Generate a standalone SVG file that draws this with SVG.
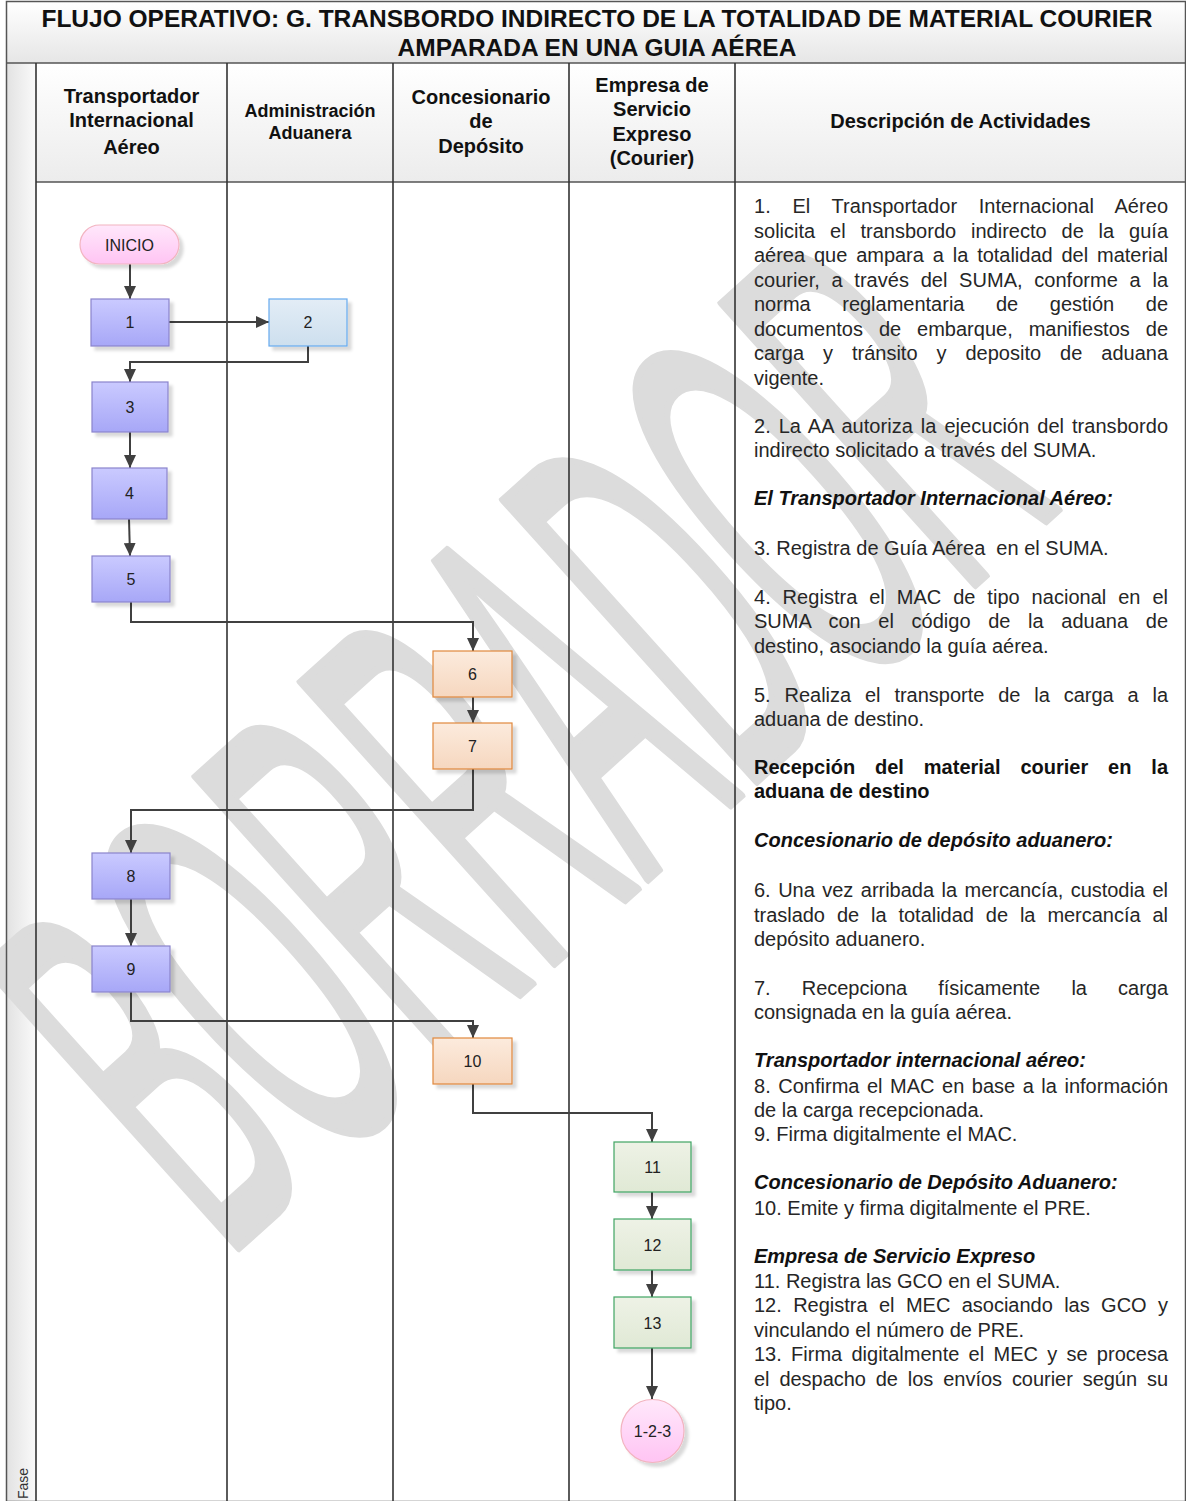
<svg xmlns="http://www.w3.org/2000/svg" width="1186" height="1501" viewBox="0 0 1186 1501">
<style>
.ttl{font-family:"Liberation Sans",Arial,sans-serif;font-weight:bold;font-size:24.5px;fill:#111;text-anchor:middle}
.hd{font-family:"Liberation Sans",Arial,sans-serif;font-weight:bold;font-size:20px;fill:#111;text-anchor:middle}
.hs{font-family:"Liberation Sans",Arial,sans-serif;font-weight:bold;font-size:18px;fill:#111;text-anchor:middle}
.nl{font-family:"Liberation Sans",Arial,sans-serif;font-size:16px;fill:#222;text-anchor:middle}
.d{font-family:"Liberation Sans",Arial,sans-serif;font-size:20px;fill:#262626}
.db{font-family:"Liberation Sans",Arial,sans-serif;font-size:20px;font-weight:bold;fill:#111}
.dbi{font-family:"Liberation Sans",Arial,sans-serif;font-size:20px;font-weight:bold;font-style:italic;fill:#111}
.lane{stroke:#333;stroke-width:1.6;fill:none}
.frame{stroke:#555;stroke-width:1.5;fill:none}
.conn{stroke:#404040;stroke-width:2;fill:none;marker-end:url(#ah)}
.nb{fill:url(#gBlue);stroke:#8a84cc;stroke-width:1.2;filter:url(#sh)}
.no{fill:url(#gOr);stroke:#e0883c;stroke-width:1.2;filter:url(#sh)}
.ng{fill:url(#gGr);stroke:#3fa463;stroke-width:1.2;filter:url(#sh)}
</style>
<defs>
<linearGradient id="gTitle" x1="0" y1="0" x2="0" y2="1"><stop offset="0" stop-color="#ffffff"/><stop offset="1" stop-color="#e6e6e6"/></linearGradient>
<linearGradient id="gHead" x1="0" y1="0" x2="0" y2="1"><stop offset="0" stop-color="#ffffff"/><stop offset="1" stop-color="#ececec"/></linearGradient>
<linearGradient id="gFase" x1="0" y1="0" x2="1" y2="0"><stop offset="0" stop-color="#e2e2e2"/><stop offset="1" stop-color="#fafafa"/></linearGradient>
<linearGradient id="gPink" x1="0" y1="0" x2="0" y2="1"><stop offset="0" stop-color="#ffe8fb"/><stop offset="1" stop-color="#ffc4f3"/></linearGradient>
<linearGradient id="gBlue" x1="0" y1="0" x2="0" y2="1"><stop offset="0" stop-color="#cacaff"/><stop offset="1" stop-color="#a7a7f7"/></linearGradient>
<linearGradient id="gLB" x1="0" y1="0" x2="0" y2="1"><stop offset="0" stop-color="#e3edf6"/><stop offset="1" stop-color="#cddfee"/></linearGradient>
<linearGradient id="gOr" x1="0" y1="0" x2="0" y2="1"><stop offset="0" stop-color="#fcebdd"/><stop offset="1" stop-color="#f6d7bf"/></linearGradient>
<linearGradient id="gGr" x1="0" y1="0" x2="0" y2="1"><stop offset="0" stop-color="#eef2e6"/><stop offset="1" stop-color="#e0e9d5"/></linearGradient>
<filter id="sh" x="-20%" y="-20%" width="150%" height="160%"><feDropShadow dx="4" dy="4" stdDeviation="1.5" flood-color="#000" flood-opacity="0.15"/></filter>
<marker id="ah" markerUnits="userSpaceOnUse" markerWidth="13" markerHeight="12" refX="13" refY="6" orient="auto"><path d="M0,0 L13,6 L0,12 Z" fill="#404040"/></marker>
<clipPath id="page"><rect x="0" y="63" width="1186" height="1438"/></clipPath>
</defs>

<rect x="0" y="0" width="1186" height="1501" fill="#ffffff"/>
<rect x="6.5" y="63" width="29.5" height="1438" fill="url(#gFase)"/>

<!-- watermark -->
<g clip-path="url(#page)">
<text transform="translate(225,1260) rotate(-42) scale(0.98,2.75)" font-family="Liberation Sans, Arial, sans-serif" font-size="200" fill="#dcdcdc" stroke="#dcdcdc" stroke-width="3" stroke-linejoin="round">BORRADOR</text>
</g>

<!-- title and header backgrounds -->
<rect x="6.5" y="1.5" width="1179" height="61.5" fill="url(#gTitle)"/>
<rect x="36" y="63" width="1150" height="119" fill="url(#gHead)"/>

<g id="frame">
<rect class="frame" x="6.5" y="1.5" width="1179" height="1500"/>
<line class="frame" x1="6.5" y1="63" x2="1186" y2="63"/>
<line class="frame" x1="36" y1="182" x2="1186" y2="182"/>
<line class="lane" x1="36" y1="63" x2="36" y2="1501"/>
<line class="lane" x1="227" y1="63" x2="227" y2="1501"/>
<line class="lane" x1="393" y1="63" x2="393" y2="1501"/>
<line class="lane" x1="569" y1="63" x2="569" y2="1501"/>
<line class="lane" x1="735" y1="63" x2="735" y2="1501"/>
</g>

<g id="title">
<text class="ttl" x="597" y="27">FLUJO OPERATIVO: G. TRANSBORDO INDIRECTO DE LA TOTALIDAD DE MATERIAL COURIER</text>
<text class="ttl" x="597" y="56">AMPARADA EN UNA GUIA AÉREA</text>
</g>

<g id="lane-headers">
<text class="hd" x="131.5" y="103">Transportador</text>
<text class="hd" x="131.5" y="127">Internacional</text>
<text class="hd" x="131.5" y="154">Aéreo</text>
<text class="hs" x="310" y="117">Administración</text>
<text class="hs" x="310" y="139">Aduanera</text>
<text class="hd" x="481" y="104">Concesionario</text>
<text class="hd" x="481" y="128">de</text>
<text class="hd" x="481" y="153">Depósito</text>
<text class="hd" x="652" y="92">Empresa de</text>
<text class="hd" x="652" y="116">Servicio</text>
<text class="hd" x="652" y="141">Expreso</text>
<text class="hd" x="652" y="165">(Courier)</text>
<text class="hd" x="960.5" y="128">Descripción de Actividades</text>
<text transform="translate(27.5,1499) rotate(-90)" font-family="Liberation Sans, Arial, sans-serif" font-size="14" fill="#333">Fase</text>
</g>

<g id="connectors">
<path class="conn" d="M130,264 V299"/>
<path class="conn" d="M169,322 H269"/>
<path class="conn" d="M308,346 V362 H130 V382"/>
<path class="conn" d="M130,432 V468"/>
<path class="conn" d="M129,519 L130,556"/>
<path class="conn" d="M131,602 V622 H473 V651"/>
<path class="conn" d="M473,697 V723"/>
<path class="conn" d="M473,769 V810 H131 V853"/>
<path class="conn" d="M131,899 V946"/>
<path class="conn" d="M131,992 V1021 H473 V1038"/>
<path class="conn" d="M473,1084 V1113 H652 V1142"/>
<path class="conn" d="M652,1192 V1219"/>
<path class="conn" d="M652,1270 V1297"/>
<path class="conn" d="M652,1348 V1399"/>
</g>

<g id="node-inicio"><rect x="80" y="225" width="99" height="39" rx="19.5" fill="url(#gPink)" stroke="#f2b4c0" stroke-width="1.2" filter="url(#sh)"/><text class="nl" x="129.5" y="250.5">INICIO</text></g>
<g id="node-1"><rect class="nb" x="91" y="299" width="78" height="47"/><text class="nl" x="130" y="328">1</text></g>
<g id="node-2"><rect x="269" y="299" width="78" height="47" fill="url(#gLB)" stroke="#66aaee" stroke-width="1.2" filter="url(#sh)"/><text class="nl" x="308" y="328">2</text></g>
<g id="node-3"><rect class="nb" x="92" y="382" width="76" height="50"/><text class="nl" x="130" y="413">3</text></g>
<g id="node-4"><rect class="nb" x="92" y="468" width="75" height="51"/><text class="nl" x="129.5" y="499">4</text></g>
<g id="node-5"><rect class="nb" x="92" y="556" width="78" height="46"/><text class="nl" x="131" y="585">5</text></g>
<g id="node-6"><rect class="no" x="433" y="651" width="79" height="46"/><text class="nl" x="472.5" y="680">6</text></g>
<g id="node-7"><rect class="no" x="433" y="723" width="79" height="46"/><text class="nl" x="472.5" y="752">7</text></g>
<g id="node-8"><rect class="nb" x="92" y="853" width="78" height="46"/><text class="nl" x="131" y="882">8</text></g>
<g id="node-9"><rect class="nb" x="92" y="946" width="78" height="46"/><text class="nl" x="131" y="975">9</text></g>
<g id="node-10"><rect class="no" x="433" y="1038" width="79" height="46"/><text class="nl" x="472.5" y="1067">10</text></g>
<g id="node-11"><rect class="ng" x="614" y="1142" width="77" height="50"/><text class="nl" x="652.5" y="1173">11</text></g>
<g id="node-12"><rect class="ng" x="614" y="1219" width="77" height="51"/><text class="nl" x="652.5" y="1251">12</text></g>
<g id="node-13"><rect class="ng" x="614" y="1297" width="77" height="51"/><text class="nl" x="652.5" y="1329">13</text></g>
<g id="node-fin"><circle cx="652.5" cy="1431" r="31.5" fill="url(#gPink)" stroke="#f2b4c0" stroke-width="1.2" filter="url(#sh)"/><text class="nl" x="652.5" y="1437">1-2-3</text></g>

<g id="descripcion">
<text class="d" x="754" y="213" word-spacing="16" textLength="414" lengthAdjust="spacing">1. El Transportador Internacional Aéreo</text>
<text class="d" x="754" y="237.5" word-spacing="9.3" textLength="414" lengthAdjust="spacing">solicita el transbordo indirecto de la guía</text>
<text class="d" x="754" y="262" word-spacing="3.4" textLength="414" lengthAdjust="spacing">aérea que ampara a la totalidad del material</text>
<text class="d" x="754" y="286.5" word-spacing="6.1" textLength="414" lengthAdjust="spacing">courier, a través del SUMA, conforme a la</text>
<text class="d" x="754" y="311" word-spacing="26" textLength="414" lengthAdjust="spacing">norma reglamentaria de gestión de</text>
<text class="d" x="754" y="335.5" word-spacing="10.4" textLength="414" lengthAdjust="spacing">documentos de embarque, manifiestos de</text>
<text class="d" x="754" y="360" word-spacing="13.4" textLength="414" lengthAdjust="spacing">carga y tránsito y deposito de aduana</text>
<text class="d" x="754" y="384.5">vigente.</text>

<text class="d" x="754" y="433" word-spacing="2.3" textLength="414" lengthAdjust="spacing">2. La AA autoriza la ejecución del transbordo</text>
<text class="d" x="754" y="457">indirecto solicitado a través del SUMA.</text>

<text class="dbi" x="754" y="505">El Transportador Internacional Aéreo:</text>

<text class="d" x="754" y="555" xml:space="preserve">3. Registra de Guía Aérea  en el SUMA.</text>

<text class="d" x="754" y="604" word-spacing="6.3" textLength="414" lengthAdjust="spacing">4. Registra el MAC de tipo nacional en el</text>
<text class="d" x="754" y="628" word-spacing="12" textLength="414" lengthAdjust="spacing">SUMA con el código de la aduana de</text>
<text class="d" x="754" y="653">destino, asociando la guía aérea.</text>

<text class="d" x="754" y="702" word-spacing="8.3" textLength="414" lengthAdjust="spacing">5. Realiza el transporte de la carga a la</text>
<text class="d" x="754" y="726">aduana de destino.</text>

<text class="db" x="754" y="774" word-spacing="14.3" textLength="414" lengthAdjust="spacing">Recepción del material courier en la</text>
<text class="db" x="754" y="798">aduana de destino</text>

<text class="dbi" x="754" y="847">Concesionario de depósito aduanero:</text>

<text class="d" x="754" y="897" word-spacing="2" textLength="414" lengthAdjust="spacing">6. Una vez arribada la mercancía, custodia el</text>
<text class="d" x="754" y="922" word-spacing="6.4" textLength="414" lengthAdjust="spacing">traslado de la totalidad de la mercancía al</text>
<text class="d" x="754" y="946">depósito aduanero.</text>

<text class="d" x="754" y="995" word-spacing="25.7" textLength="414" lengthAdjust="spacing">7. Recepciona físicamente la carga</text>
<text class="d" x="754" y="1019">consignada en la guía aérea.</text>

<text class="dbi" x="754" y="1067">Transportador internacional aéreo:</text>
<text class="d" x="754" y="1093" word-spacing="1.9" textLength="414" lengthAdjust="spacing">8. Confirma el MAC en base a la información</text>
<text class="d" x="754" y="1117">de la carga recepcionada.</text>
<text class="d" x="754" y="1141">9. Firma digitalmente el MAC.</text>

<text class="dbi" x="754" y="1189">Concesionario de Depósito Aduanero:</text>
<text class="d" x="754" y="1215">10. Emite y firma digitalmente el PRE.</text>

<text class="dbi" x="754" y="1263">Empresa de Servicio Expreso</text>
<text class="d" x="754" y="1288">11. Registra las GCO en el SUMA.</text>
<text class="d" x="754" y="1312" word-spacing="5.8" textLength="414" lengthAdjust="spacing">12. Registra el MEC asociando las GCO y</text>
<text class="d" x="754" y="1337">vinculando el número de PRE.</text>
<text class="d" x="754" y="1361" word-spacing="3.7" textLength="414" lengthAdjust="spacing">13. Firma digitalmente el MEC y se procesa</text>
<text class="d" x="754" y="1386" word-spacing="4.4" textLength="414" lengthAdjust="spacing">el despacho de los envíos courier según su</text>
<text class="d" x="754" y="1410">tipo.</text>
</g>
</svg>
